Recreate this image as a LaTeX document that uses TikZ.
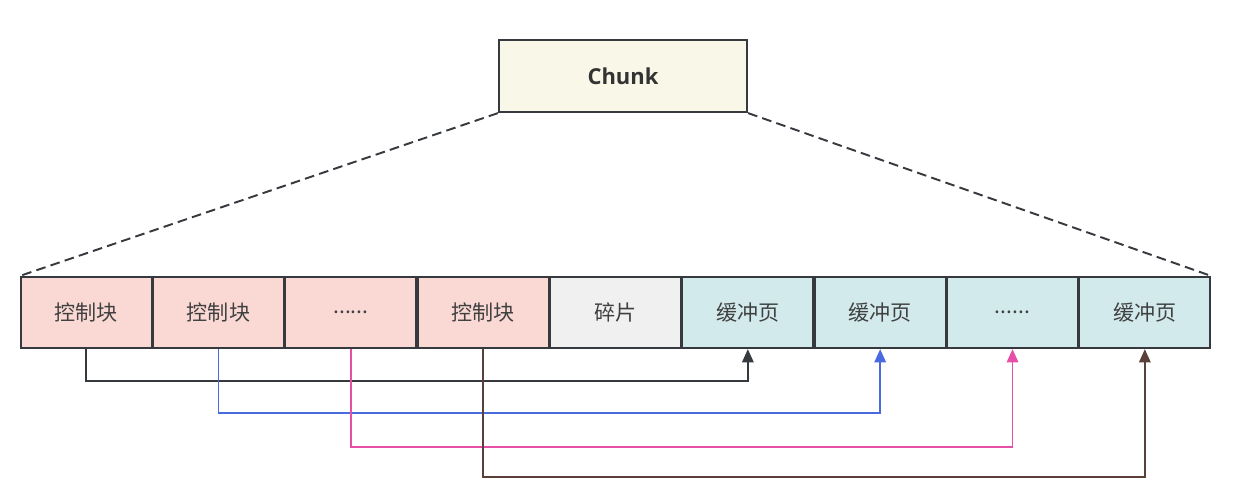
\documentclass[tikz,border=0pt]{standalone}
\usepackage{fontspec}
\setmainfont{Open Sans}
\newfontfamily\cjk{Noto Sans CJK SC}
\usepackage{xcolor}
\usetikzlibrary{arrows.meta, positioning}

\definecolor{cellpink}{HTML}{FAD9D5}
\definecolor{cellgray}{HTML}{F0F0F0}
\definecolor{cellblue}{HTML}{D3EAED}
\definecolor{chunkfill}{HTML}{F9F7E8}
\definecolor{edgegray}{HTML}{36393D}
\definecolor{linkblue}{HTML}{4A6BE0}
\definecolor{linkpink}{HTML}{E64FA6}
\definecolor{linkbrown}{HTML}{5A4038}

\begin{document}
\begin{tikzpicture}[
    x=0.02cm, y=-0.02cm,
    cell/.style={draw=edgegray, line width=1pt, rectangle, minimum width=2.612cm, minimum height=1.43cm, inner sep=0pt, font=\cjk\fontsize{12}{14}\selectfont, text=black!75},
    chunkbox/.style={draw=edgegray, line width=1pt, rectangle, fill=chunkfill, minimum width=4.97cm, minimum height=1.45cm, font=\bfseries\fontsize{12.5}{15}\selectfont, text=black!80},
    link/.style={line width=1pt, -{Triangle[length=7.5pt, width=6.5pt]}},
    dashline/.style={dash pattern=on 5.5pt off 3pt, line width=1.1pt, draw=edgegray}
]
\useasboundingbox (0,0) rectangle (1244,497);

\node[chunkbox] (chunk) at (623,76) {Chunk};

% row of blocks
\node[cell, fill=cellpink] (c1) at (86.2,312.5) {控制块};
\node[cell, fill=cellpink, right=0cm of c1] (c2) {控制块};
\node[cell, fill=cellpink, right=0cm of c2] (c3) {......};
\node[cell, fill=cellpink, right=0cm of c3] (c4) {控制块};
\node[cell, fill=cellgray, right=0cm of c4] (c5) {碎片};
\node[cell, fill=cellblue, right=0cm of c5] (c6) {缓冲页};
\node[cell, fill=cellblue, right=0cm of c6] (c7) {缓冲页};
\node[cell, fill=cellblue, right=0cm of c7] (c8) {......};
\node[cell, fill=cellblue, right=0cm of c8] (c9) {缓冲页};

\draw[dashline] (chunk.south west) -- (c1.north west);
\draw[dashline] (chunk.south east) -- (c9.north east);

% control block -> page
\draw[link, edgegray] (c1.south) -- ++(0,32) -| (c6.south);
\draw[link, linkblue] (c2.south) -- ++(0,64) -| (c7.south);
\draw[link, linkpink] (c3.south) -- ++(0,98) -| (c8.south);
\draw[link, linkbrown] (c4.south) -- ++(0,128) -| (c9.south);

\end{tikzpicture}
\end{document}
